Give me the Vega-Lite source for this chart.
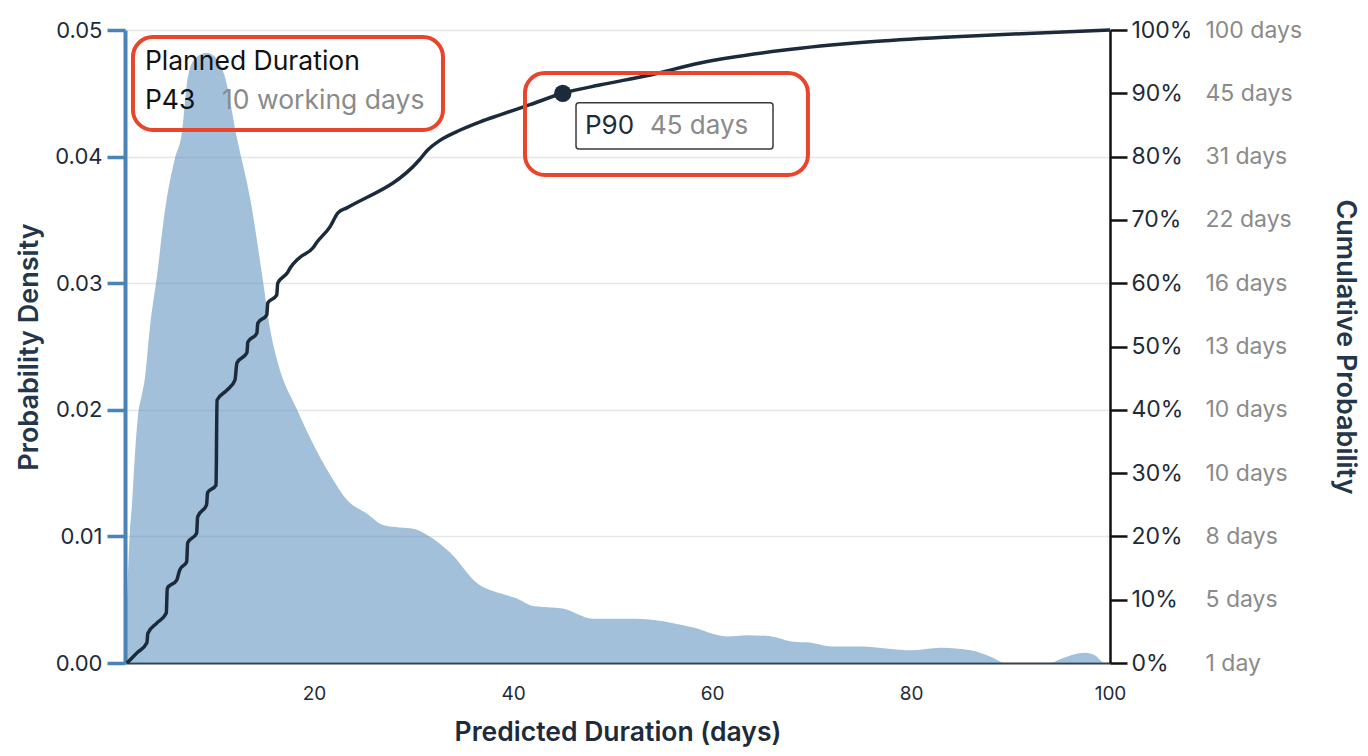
{
  "$schema": "https://vega.github.io/schema/vega-lite/v6.json",
  "width": 985,
  "height": 633,
  "autosize": {"type": "none"},
  "padding": {"left": 125, "top": 30, "right": 258, "bottom": 93},
  "background": "white",
  "config": {
    "view": {"stroke": null},
    "font": "Inter",
    "axis": {"labelFont": "Inter", "titleFont": "Inter", "labelOverlap": false, "labelFlush": false}
  },
  "datasets": {
    "density": [
      {"day": 1.0, "density": 0},
      {"day": 1.2, "density": 0.005},
      {"day": 1.5, "density": 0.0105},
      {"day": 1.7, "density": 0.0125},
      {"day": 2.0, "density": 0.0165},
      {"day": 2.3, "density": 0.0195},
      {"day": 2.7, "density": 0.0212},
      {"day": 3.0, "density": 0.0225},
      {"day": 3.5, "density": 0.0265},
      {"day": 4.2, "density": 0.0305},
      {"day": 5.1, "density": 0.0362},
      {"day": 6.0, "density": 0.0398},
      {"day": 6.7, "density": 0.0418},
      {"day": 7.3, "density": 0.0462},
      {"day": 8.0, "density": 0.0477},
      {"day": 9.2, "density": 0.0482},
      {"day": 10.0, "density": 0.0479},
      {"day": 11.0, "density": 0.0464},
      {"day": 12.3, "density": 0.0413},
      {"day": 13.6, "density": 0.0366},
      {"day": 14.9, "density": 0.0300},
      {"day": 15.6, "density": 0.0263},
      {"day": 16.3, "density": 0.0239},
      {"day": 18.3, "density": 0.0200},
      {"day": 21.9, "density": 0.0145},
      {"day": 23.3, "density": 0.0129},
      {"day": 25.3, "density": 0.0118},
      {"day": 26.9, "density": 0.0109},
      {"day": 28.6, "density": 0.0107},
      {"day": 30.0, "density": 0.0106},
      {"day": 31.4, "density": 0.0101},
      {"day": 33.7, "density": 0.0087},
      {"day": 36.4, "density": 0.0063},
      {"day": 38.7, "density": 0.0055},
      {"day": 40.4, "density": 0.0051},
      {"day": 42.0, "density": 0.0045},
      {"day": 45.0, "density": 0.0043},
      {"day": 48.0, "density": 0.0035},
      {"day": 52.1, "density": 0.0035},
      {"day": 54.1, "density": 0.0034},
      {"day": 58.1, "density": 0.0028},
      {"day": 61.5, "density": 0.0021},
      {"day": 63.5, "density": 0.0022},
      {"day": 66.0, "density": 0.0021},
      {"day": 68.0, "density": 0.0017},
      {"day": 70.0, "density": 0.0016},
      {"day": 72.0, "density": 0.0013},
      {"day": 75.0, "density": 0.0013},
      {"day": 78.0, "density": 0.0011},
      {"day": 80.0, "density": 0.0010},
      {"day": 83.0, "density": 0.0012},
      {"day": 86.0, "density": 0.0010},
      {"day": 88.0, "density": 0.0005},
      {"day": 89.5, "density": 0},
      {"day": 94.0, "density": 0},
      {"day": 95.0, "density": 0.0003},
      {"day": 97.5, "density": 0.0008},
      {"day": 98.5, "density": 0.0006},
      {"day": 99.5, "density": 0},
      {"day": 100, "density": 0}
    ],
    "cumulative": [
      {"day": 1.2, "cdf": 0.0},
      {"day": 2.2, "cdf": 0.016},
      {"day": 3.2, "cdf": 0.032},
      {"day": 3.3, "cdf": 0.047},
      {"day": 4.2, "cdf": 0.063},
      {"day": 5.15, "cdf": 0.079},
      {"day": 5.25, "cdf": 0.118},
      {"day": 6.2, "cdf": 0.131},
      {"day": 6.5, "cdf": 0.147},
      {"day": 7.2, "cdf": 0.160},
      {"day": 7.3, "cdf": 0.190},
      {"day": 8.2, "cdf": 0.205},
      {"day": 8.3, "cdf": 0.231},
      {"day": 9.2, "cdf": 0.250},
      {"day": 9.3, "cdf": 0.269},
      {"day": 10.15, "cdf": 0.281},
      {"day": 10.25, "cdf": 0.415},
      {"day": 11.25, "cdf": 0.431},
      {"day": 12.05, "cdf": 0.447},
      {"day": 12.25, "cdf": 0.474},
      {"day": 13.25, "cdf": 0.490},
      {"day": 13.35, "cdf": 0.507},
      {"day": 14.25, "cdf": 0.521},
      {"day": 14.35, "cdf": 0.537},
      {"day": 15.25, "cdf": 0.550},
      {"day": 15.35, "cdf": 0.569},
      {"day": 16.25, "cdf": 0.581},
      {"day": 16.35, "cdf": 0.600},
      {"day": 17.3, "cdf": 0.616},
      {"day": 17.6, "cdf": 0.624},
      {"day": 18.3, "cdf": 0.637},
      {"day": 18.6, "cdf": 0.641},
      {"day": 19.9, "cdf": 0.656},
      {"day": 20.3, "cdf": 0.665},
      {"day": 21.6, "cdf": 0.689},
      {"day": 22.4, "cdf": 0.711},
      {"day": 23.3, "cdf": 0.719},
      {"day": 30.6, "cdf": 0.795},
      {"day": 31.4, "cdf": 0.810},
      {"day": 32.7, "cdf": 0.826},
      {"day": 34.7, "cdf": 0.842},
      {"day": 36.7, "cdf": 0.855},
      {"day": 38.7, "cdf": 0.866},
      {"day": 41.7, "cdf": 0.882},
      {"day": 45.0, "cdf": 0.900},
      {"day": 48.7, "cdf": 0.913},
      {"day": 53.8, "cdf": 0.929},
      {"day": 58.8, "cdf": 0.948},
      {"day": 67.1, "cdf": 0.968},
      {"day": 75.6, "cdf": 0.981},
      {"day": 83.9, "cdf": 0.989},
      {"day": 92.3, "cdf": 0.995},
      {"day": 100, "cdf": 1.0}
    ],
    "p90": [{"day": 45, "cdf": 0.9}]
  },
  "resolve": {"scale": {"y": "independent"}},
  "layer": [
    {
      "data": {"name": "density"},
      "mark": {"type": "area", "color": "#4682b4", "opacity": 0.5, "interpolate": "monotone"},
      "encoding": {
        "x": {
          "field": "day", "type": "quantitative",
          "scale": {"domain": [1, 100], "nice": false, "zero": false},
          "axis": {
            "title": "Predicted Duration (days)",
            "values": [20, 40, 60, 80, 100],
            "ticks": false,
            "grid": false,
            "domainColor": "#3c4046",
            "domainWidth": 2,
            "labelFontSize": 19,
            "labelColor": "#1d2b3a",
            "labelPadding": 21,
            "titleFontSize": 26.5,
            "titleFontWeight": 600,
            "titleColor": "#1d2b3a",
            "titlePadding": 16
          }
        },
        "y": {
          "field": "density", "type": "quantitative",
          "scale": {"domain": [0, 0.05], "nice": false},
          "axis": {
            "orient": "left",
            "title": "Probability Density",
            "values": [0, 0.01, 0.02, 0.03, 0.04, 0.05],
            "format": ".2f",
            "grid": true,
            "gridColor": "#e6e6e6",
            "gridWidth": 1.5,
            "domainColor": "#4a83b5",
            "domainWidth": 4,
            "tickColor": "#4a83b5",
            "tickWidth": 3.5,
            "tickSize": 18,
            "labelFontSize": 22,
            "labelColor": "#1d2b3a",
            "labelPadding": 5,
            "titleFontSize": 27,
            "titleFontWeight": 600,
            "titleColor": "#24364a",
            "titlePadding": 11
          }
        }
      }
    },
    {
      "data": {"name": "cumulative"},
      "mark": {"type": "line", "color": "#1c2b3b", "strokeWidth": 3.5, "interpolate": "monotone"},
      "encoding": {
        "x": {"field": "day", "type": "quantitative", "title": "Predicted Duration (days)"},
        "y": {
          "field": "cdf", "type": "quantitative",
          "scale": {"domain": [0, 1], "nice": false},
          "axis": {
            "orient": "right",
            "title": null,
            "values": [0, 0.1, 0.2, 0.3, 0.4, 0.5, 0.6, 0.7, 0.8, 0.9, 1],
            "format": ".0%",
            "grid": false,
            "domainColor": "#111111",
            "domainWidth": 2.5,
            "tickColor": "#111111",
            "tickWidth": 2.5,
            "tickSize": 17,
            "labelFontSize": 23,
            "labelColor": "#1d2b3a",
            "labelPadding": 4
          }
        }
      }
    },
    {
      "data": {"name": "p90"},
      "mark": {"type": "point", "filled": true, "color": "#1c2b3b", "size": 300, "opacity": 1},
      "encoding": {
        "x": {"field": "day", "type": "quantitative", "title": "Predicted Duration (days)"},
        "y": {
          "field": "cdf", "type": "quantitative",
          "scale": {"domain": [0, 1], "nice": false},
          "axis": {
            "orient": "right",
            "title": "Cumulative Probability",
            "values": [0, 0.1, 0.2, 0.3, 0.4, 0.5, 0.6, 0.7, 0.8, 0.9, 1],
            "labelExpr": "['1 day','5 days','8 days','10 days','10 days','13 days','16 days','22 days','31 days','45 days','100 days'][round(datum.value * 10)]",
            "grid": false,
            "domain": false,
            "ticks": false,
            "labelFontSize": 23,
            "labelColor": "#8a8a8a",
            "labelPadding": 95,
            "titleFontSize": 27,
            "titleFontWeight": 600,
            "titleColor": "#24364a",
            "titlePadding": 29
          }
        }
      }
    },
    {
      "data": {"values": [{"box": "planned"}]},
      "mark": {"type": "rect", "fill": null, "stroke": "#e8452c", "strokeWidth": 4, "cornerRadius": 20},
      "encoding": {
        "x": {"datum": 1.8, "type": "quantitative", "title": "Predicted Duration (days)"},
        "x2": {"datum": 32.96},
        "y": {"datum": 0.842, "type": "quantitative", "scale": {"domain": [0, 1], "nice": false}, "axis": null},
        "y2": {"datum": 0.989}
      }
    },
    {
      "data": {"values": [{"box": "p90 frame"}]},
      "mark": {"type": "rect", "fill": null, "stroke": "#e8452c", "strokeWidth": 4, "cornerRadius": 20},
      "encoding": {
        "x": {"datum": 41.2, "type": "quantitative", "title": "Predicted Duration (days)"},
        "x2": {"datum": 69.64},
        "y": {"datum": 0.771, "type": "quantitative", "scale": {"domain": [0, 1], "nice": false}, "axis": null},
        "y2": {"datum": 0.932}
      }
    },
    {
      "data": {"values": [{"box": "p90 label"}]},
      "mark": {"type": "rect", "fill": "white", "stroke": "#3a3a3a", "strokeWidth": 1.5, "cornerRadius": 3},
      "encoding": {
        "x": {"datum": 46.33, "type": "quantitative", "title": "Predicted Duration (days)"},
        "x2": {"datum": 66.13},
        "y": {"datum": 0.812, "type": "quantitative", "scale": {"domain": [0, 1], "nice": false}, "axis": null},
        "y2": {"datum": 0.885}
      }
    },
    {
      "data": {"values": [{"label": "Planned Duration"}]},
      "mark": {"type": "text", "align": "left", "baseline": "middle", "fontSize": 26.5, "color": "#111111"},
      "encoding": {
        "x": {"datum": 3.0, "type": "quantitative", "title": "Predicted Duration (days)"},
        "y": {"datum": 0.949, "type": "quantitative", "scale": {"domain": [0, 1], "nice": false}, "axis": null},
        "text": {"field": "label"}
      }
    },
    {
      "data": {"values": [{"label": "P43"}]},
      "mark": {"type": "text", "align": "left", "baseline": "middle", "fontSize": 26.5, "color": "#111111"},
      "encoding": {
        "x": {"datum": 3.0, "type": "quantitative", "title": "Predicted Duration (days)"},
        "y": {"datum": 0.888, "type": "quantitative", "scale": {"domain": [0, 1], "nice": false}, "axis": null},
        "text": {"field": "label"}
      }
    },
    {
      "data": {"values": [{"label": "10 working days"}]},
      "mark": {"type": "text", "align": "left", "baseline": "middle", "fontSize": 26.5, "color": "#8a8a8a"},
      "encoding": {
        "x": {"datum": 10.75, "type": "quantitative", "title": "Predicted Duration (days)"},
        "y": {"datum": 0.888, "type": "quantitative", "scale": {"domain": [0, 1], "nice": false}, "axis": null},
        "text": {"field": "label"}
      }
    },
    {
      "data": {"values": [{"label": "P90"}]},
      "mark": {"type": "text", "align": "left", "baseline": "middle", "fontSize": 26, "color": "#1d2b3a"},
      "encoding": {
        "x": {"datum": 47.23, "type": "quantitative", "title": "Predicted Duration (days)"},
        "y": {"datum": 0.848, "type": "quantitative", "scale": {"domain": [0, 1], "nice": false}, "axis": null},
        "text": {"field": "label"}
      }
    },
    {
      "data": {"values": [{"label": "45 days"}]},
      "mark": {"type": "text", "align": "left", "baseline": "middle", "fontSize": 26, "color": "#8a8a8a"},
      "encoding": {
        "x": {"datum": 53.76, "type": "quantitative", "title": "Predicted Duration (days)"},
        "y": {"datum": 0.848, "type": "quantitative", "scale": {"domain": [0, 1], "nice": false}, "axis": null},
        "text": {"field": "label"}
      }
    }
  ]
}
